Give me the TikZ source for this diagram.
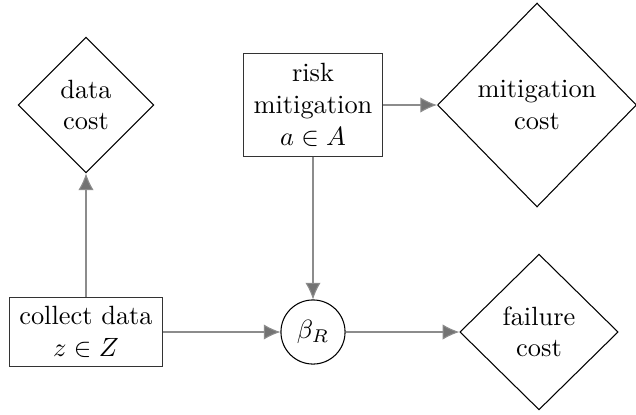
\documentclass[tikz,border=0pt]{standalone}
\usetikzlibrary{shapes.geometric,arrows.meta}
\tikzset{
  decision/.style={draw, rectangle, draw=black!80, align=center, inner xsep=3.7pt},
  cost/.style={draw, diamond, align=center, inner sep=0pt},
  chance/.style={draw, circle, minimum size=24.3pt, inner sep=0pt},
  infl/.style={draw=black!45, line width=0.4pt, -{Latex[length=6.3pt,width=5.8pt,fill=black!55]}}
}
\begin{document}
\begin{tikzpicture}[x=0.379pt,y=-0.379pt]
\useasboundingbox (0,0) rectangle (636,414);
\node[decision, minimum height=26.5pt] (collect) at (86,332) {collect data\\$z\in Z$};
\node[decision, minimum height=38.7pt, minimum width=52.7pt] (mitig) at (313,105) {risk\\mitigation\\$a\in A$};
\node[chance] (beta) at (313,332) {$\beta_R$};
\node[cost, minimum width=51.5pt, minimum height=51.5pt] (datacost) at (86,105) {data\\cost};
\node[cost, minimum width=75.4pt, minimum height=77.3pt] (mitcost) at (537,105) {mitigation\\cost};
\node[cost, minimum width=60pt, minimum height=59pt] (failcost) at (539,332) {failure\\cost};

\path[infl] (collect) -- (datacost);
\path[infl] (collect) -- (beta);
\path[infl] (mitig) -- (beta);
\path[infl] (mitig) -- (mitcost);
\path[infl] (beta) -- (failcost);
\end{tikzpicture}
\end{document}
